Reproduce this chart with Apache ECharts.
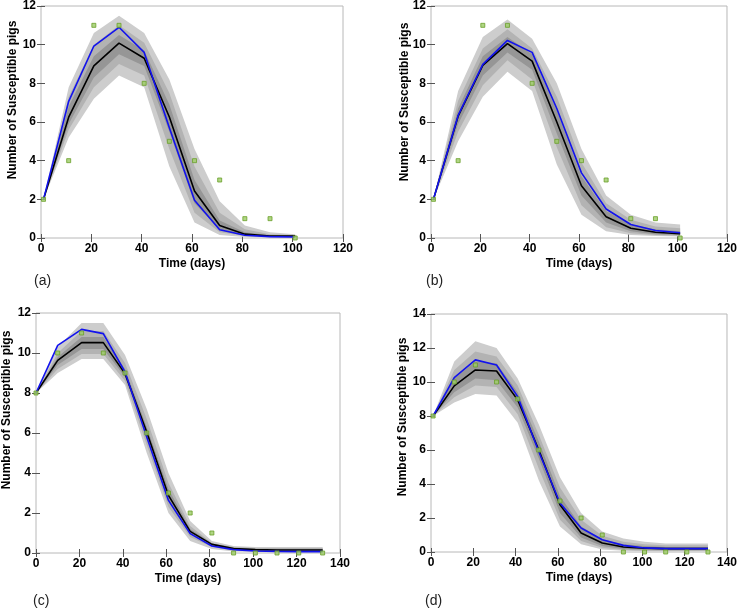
<!DOCTYPE html>
<html><head><meta charset="utf-8">
<script src="https://cdn.jsdelivr.net/npm/echarts@6/dist/echarts.min.js"></script>
<style>html,body{margin:0;padding:0;background:#fff}#c{width:740px;height:613px}</style>
</head><body><div id="c"></div>
<script>
// ---------- Panel (a) ----------
const aDays   = [1, 11, 21, 31, 41, 51, 61, 71, 81, 91, 101];
const aObs    = [2, 4, 11, 11, 8, 5, 4, 3, 1, 1, 0];
const aMean   = [2, 6.25, 8.9, 10.08, 9.3, 6.26, 2.43, 0.65, 0.2, 0.1, 0.1];
const aFit    = [2, 7.07, 9.93, 10.9, 9.6, 5.7, 1.95, 0.43, 0.14, 0.07, 0.05];
const aOutHi  = [2, 7.8, 10.6, 11.5, 10.6, 8.2, 4.6, 1.9, 0.65, 0.3, 0.2];
const aMidHi  = [2, 7.3, 10.0, 11.0, 10.1, 7.5, 3.7, 1.3, 0.45, 0.2, 0.15];
const aInHi   = [2, 6.8, 9.4, 10.5, 9.7, 6.9, 3.0, 0.9, 0.3, 0.14, 0.12];
const aInLo   = [2, 5.9, 8.3, 9.5, 8.9, 5.5, 1.8, 0.45, 0.14, 0.06, 0.05];
const aMidLo  = [2, 5.6, 7.8, 9.0, 8.4, 4.6, 1.3, 0.3, 0.1, 0.04, 0.02];
const aOutLo  = [2, 5.2, 7.2, 8.4, 7.8, 3.7, 0.8, 0.15, 0.05, 0.02, 0];
// ---------- Panel (b) ----------
const bDays   = [1, 11, 21, 31, 41, 51, 61, 71, 81, 91, 101];
const bObs    = [2, 4, 11, 11, 8, 5, 4, 3, 1, 1, 0];
const bMean   = [2, 6.3, 8.93, 10.05, 9.15, 6.0, 2.7, 1.1, 0.5, 0.3, 0.22];
const bFit    = [2, 6.34, 8.98, 10.22, 9.6, 6.7, 3.37, 1.5, 0.7, 0.39, 0.27];
const bOutHi  = [2, 7.6, 10.4, 11.3, 10.3, 8.0, 4.6, 2.2, 1.2, 0.8, 0.7];
const bMidHi  = [2, 7.1, 9.8, 10.8, 9.8, 7.3, 3.9, 1.8, 0.95, 0.6, 0.5];
const bInHi   = [2, 6.7, 9.4, 10.4, 9.5, 6.6, 3.2, 1.4, 0.7, 0.45, 0.35];
const bInLo   = [2, 5.9, 8.4, 9.6, 8.7, 5.4, 2.2, 0.8, 0.35, 0.2, 0.15];
const bMidLo  = [2, 5.5, 7.9, 9.2, 8.2, 4.7, 1.7, 0.55, 0.25, 0.15, 0.1];
const bOutLo  = [2, 5.0, 7.3, 8.6, 7.6, 3.8, 1.2, 0.35, 0.15, 0.1, 0.08];
// ---------- Panel (c) ----------
const cDays   = [0, 10, 21, 31, 41, 51, 61, 71, 81, 91, 101, 111, 121, 132];
const cObs    = [8, 10, 11, 10, 9, 6, 3, 2, 1, 0, 0, 0, 0, 0];
const cMean   = [8, 9.63, 10.52, 10.52, 8.97, 6.05, 2.88, 1.08, 0.43, 0.22, 0.17, 0.15, 0.15, 0.15];
const cFit    = [8, 10.38, 11.18, 10.97, 9.05, 5.8, 2.63, 0.97, 0.35, 0.17, 0.1, 0.08, 0.07, 0.07];
const cOutHi  = [8, 10.3, 11.5, 11.5, 9.9, 7.2, 4.0, 1.6, 0.6, 0.35, 0.3, 0.3, 0.3, 0.3];
const cMidHi  = [8, 10.0, 11.1, 11.1, 9.5, 6.7, 3.5, 1.35, 0.5, 0.3, 0.25, 0.25, 0.25, 0.25];
const cInHi   = [8, 9.8, 10.8, 10.8, 9.2, 6.3, 3.2, 1.2, 0.47, 0.26, 0.2, 0.2, 0.2, 0.2];
const cInLo   = [8, 9.4, 10.2, 10.2, 8.8, 5.8, 2.6, 0.95, 0.38, 0.18, 0.13, 0.11, 0.11, 0.11];
const cMidLo  = [8, 9.2, 9.95, 9.95, 8.6, 5.4, 2.3, 0.8, 0.3, 0.13, 0.09, 0.07, 0.07, 0.07];
const cOutLo  = [8, 9.0, 9.7, 9.7, 8.4, 5.0, 2.0, 0.6, 0.2, 0.08, 0.05, 0.03, 0.03, 0.03];
// ---------- Panel (d) ----------
const dDays   = [1, 11, 21, 31, 41, 51, 61, 71, 81, 91, 101, 111, 121, 131];
const dObs    = [8, 10, 11, 10, 9, 6, 3, 2, 1, 0, 0, 0, 0, 0];
const dMean   = [8, 9.77, 10.71, 10.65, 8.95, 6.0, 2.78, 1.12, 0.53, 0.29, 0.23, 0.2, 0.2, 0.2];
const dFit    = [8, 10.26, 11.3, 11.0, 9.14, 5.9, 2.88, 1.41, 0.72, 0.39, 0.24, 0.2, 0.2, 0.2];
const dOutHi  = [8, 11.2, 12.4, 12.0, 10.2, 7.5, 4.4, 2.3, 1.2, 0.8, 0.6, 0.5, 0.5, 0.5];
const dMidHi  = [8, 10.7, 11.8, 11.5, 9.8, 6.9, 3.8, 1.9, 0.95, 0.6, 0.45, 0.4, 0.4, 0.4];
const dInHi   = [8, 10.2, 11.2, 11.1, 9.4, 6.5, 3.3, 1.5, 0.75, 0.45, 0.35, 0.3, 0.3, 0.3];
const dInLo   = [8, 9.4, 10.2, 10.1, 8.5, 5.5, 2.3, 0.85, 0.35, 0.18, 0.13, 0.12, 0.12, 0.12];
const dMidLo  = [8, 9.1, 9.8, 9.7, 8.1, 4.9, 1.9, 0.65, 0.25, 0.12, 0.08, 0.06, 0.06, 0.06];
const dOutLo  = [8, 8.8, 9.3, 9.2, 7.6, 4.2, 1.5, 0.45, 0.15, 0.07, 0.05, 0.03, 0.03, 0.03];

const xTitle = 'Time (days)';
const yTitle = 'Number of Susceptible pigs';
const panelLabels = ['(a)', '(b)', '(c)', '(d)'];
const xMaxes = [120, 120, 140, 140];
const yMaxes = [12, 12, 12, 14];

const panels = [
  {days:aDays, obs:aObs, mean:aMean, fit:aFit, bands:[[aOutLo,aOutHi],[aMidLo,aMidHi],[aInLo,aInHi]]},
  {days:bDays, obs:bObs, mean:bMean, fit:bFit, bands:[[bOutLo,bOutHi],[bMidLo,bMidHi],[bInLo,bInHi]]},
  {days:cDays, obs:cObs, mean:cMean, fit:cFit, bands:[[cOutLo,cOutHi],[cMidLo,cMidHi],[cInLo,cInHi]]},
  {days:dDays, obs:dObs, mean:dMean, fit:dFit, bands:[[dOutLo,dOutHi],[dMidLo,dMidHi],[dInLo,dInHi]]}
];

const grids = [
  {left:41, top:6, width:302, height:232},
  {left:431, top:5, width:299, height:233},
  {left:36, top:313, width:304, height:240},
  {left:431, top:314, width:300, height:238}
];
const yTitlePos = [[13, 100], [405, 102], [7, 410], [403, 417]];
const labelPos = [[34, 274], [426, 274], [33, 594], [425, 594]];
const bandColors = ['#cdcdcd', '#b3b3b3', '#969696'];
const FONT = '"Liberation Sans", Arial, sans-serif';

const option = {animation:false, grid:[], xAxis:[], yAxis:[], series:[], graphic:[]};
const tickStyle = {show:true, inside:true, length:4, lineStyle:{color:'#555', width:1}};
panels.forEach((p, i) => {
  option.grid.push(Object.assign({show:true, borderColor:'#b8b8b8', borderWidth:1, backgroundColor:'#fff'}, grids[i]));
  option.xAxis.push({gridIndex:i, type:'value', min:0, max:xMaxes[i], interval:20, position:'bottom',
    axisLine:{show:false}, axisTick:tickStyle, splitLine:{show:false},
    axisLabel:{color:'#000', fontWeight:'bold', fontSize:12, fontFamily:FONT, margin:5},
    name:xTitle, nameLocation:'middle', nameGap:20,
    nameTextStyle:{color:'#000', fontWeight:'bold', fontSize:12, fontFamily:FONT}});
  option.yAxis.push({gridIndex:i, type:'value', min:0, max:yMaxes[i], interval:2, position:'left',
    axisLine:{show:false}, axisTick:tickStyle, splitLine:{show:false},
    axisLabel:{color:'#000', fontWeight:'bold', fontSize:12, fontFamily:FONT, margin:5}});
});
panels.forEach((p, i) => {
  option.xAxis.push({gridIndex:i, type:'value', min:0, max:xMaxes[i], interval:20, position:'top',
    axisLine:{show:false}, axisTick:tickStyle, axisLabel:{show:false}, splitLine:{show:false}});
  option.yAxis.push({gridIndex:i, type:'value', min:0, max:yMaxes[i], interval:2, position:'right',
    axisLine:{show:false}, axisTick:tickStyle, axisLabel:{show:false}, splitLine:{show:false}});
});

function bandRenderer(days, lo, hi, color) {
  return function (params, api) {
    if (params.dataIndex !== 0) return null;
    const pts = [];
    for (let j = 0; j < days.length; j++) pts.push(api.coord([days[j], hi[j]]));
    for (let j = days.length - 1; j >= 0; j--) pts.push(api.coord([days[j], lo[j]]));
    return {type:'polygon', shape:{points:pts}, style:{fill:color, stroke:null}, silent:true};
  };
}

panels.forEach((p, i) => {
  p.bands.forEach((b, k) => {
    const lo = b[0], hi = b[1];
    option.series.push({type:'custom', xAxisIndex:i, yAxisIndex:i, silent:true, z:1,
      renderItem:bandRenderer(p.days, lo, hi, bandColors[k]),
      encode:{x:0, y:[1, 2]},
      data:p.days.map((d, j) => [d, lo[j], hi[j]])});
  });
  option.series.push({type:'line', xAxisIndex:i, yAxisIndex:i, symbol:'none', z:3,
    lineStyle:{color:'#000', width:1.6}, data:p.days.map((d, j) => [d, p.mean[j]])});
  option.series.push({type:'line', xAxisIndex:i, yAxisIndex:i, symbol:'none', z:4,
    lineStyle:{color:'#1212ee', width:1.6}, data:p.days.map((d, j) => [d, p.fit[j]])});
  option.series.push({type:'scatter', xAxisIndex:i, yAxisIndex:i, symbol:'rect', symbolSize:4, z:5,
    itemStyle:{color:'#9ccc65', borderColor:'#6a9f2a', borderWidth:1},
    data:p.days.map((d, j) => [d, p.obs[j]])});
  option.graphic.push({type:'text', left:labelPos[i][0], top:labelPos[i][1],
    style:{text:panelLabels[i], fill:'#222', font:'14px ' + FONT}});
  option.graphic.push({type:'text', x:yTitlePos[i][0], y:yTitlePos[i][1], rotation:Math.PI / 2,
    style:{text:yTitle, x:0, y:0, align:'center', verticalAlign:'middle', fill:'#000',
      font:'bold 12px ' + FONT}});
});

const chart = echarts.init(document.getElementById('c'), null, {renderer:'canvas'});
chart.setOption(option);
</script></body></html>
